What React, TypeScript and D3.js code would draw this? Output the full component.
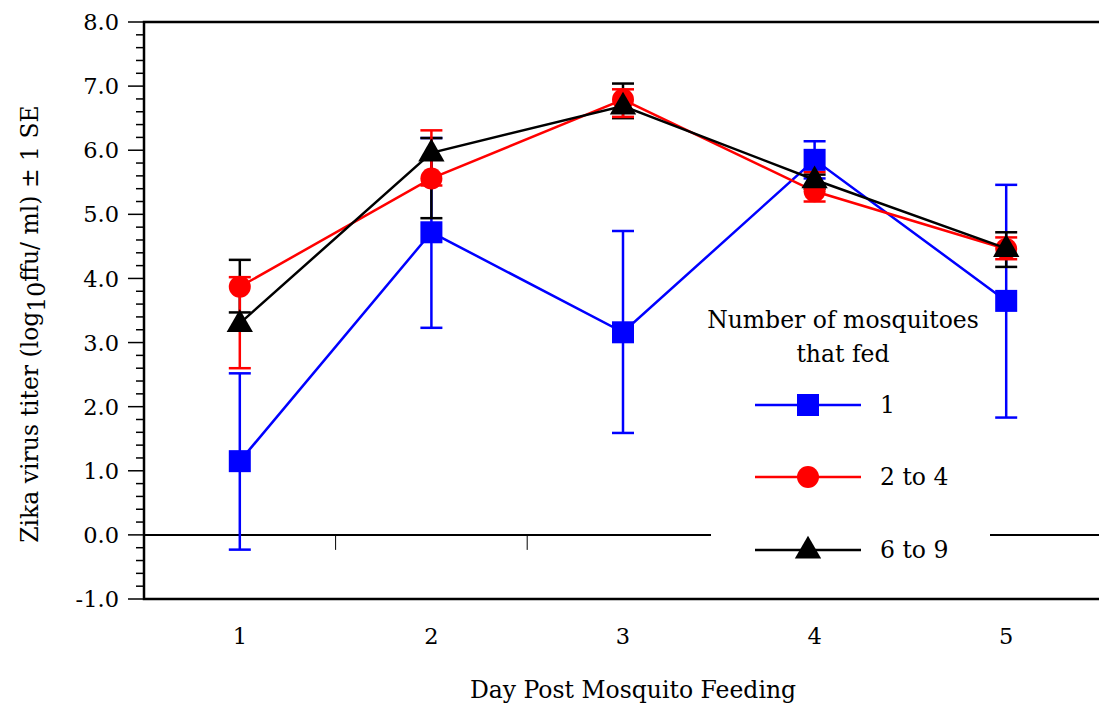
import * as d3 from "d3";

const days = [1, 2, 3, 4, 5];

// one mosquito
const oneMean = [1.15, 4.72, 3.16, 5.85, 3.65];
const oneUpper = [2.52, 6.19, 4.74, 6.14, 5.46];
const oneLower = [-0.23, 3.23, 1.59, 5.56, 1.83];

// 2 to 4 mosquitoes
const twoMean = [3.87, 5.56, 6.79, 5.36, 4.46];
const twoUpper = [4.02, 6.31, 6.95, 5.66, 4.64];
const twoLower = [2.6, 5.45, 6.52, 5.2, 4.3];

// 6 to 9 mosquitoes
const sixMean = [3.3, 5.96, 6.69, 5.54, 4.47];
const sixUpper = [4.29, 6.19, 7.04, 5.62, 4.72];
const sixLower = [3.47, 4.94, 6.5, 5.4, 4.18];

const yTicks = [-1, 0, 1, 2, 3, 4, 5, 6, 7, 8];
const halfDays = [1.5, 2.5, 3.5, 4.5];

type Shape = "square" | "circle" | "triangle";

const series = [
  { name: "1", color: "#0000ff", shape: "square" as Shape, mean: oneMean, upper: oneUpper, lower: oneLower },
  { name: "2 to 4", color: "#ff0000", shape: "circle" as Shape, mean: twoMean, upper: twoUpper, lower: twoLower },
  { name: "6 to 9", color: "#000000", shape: "triangle" as Shape, mean: sixMean, upper: sixUpper, lower: sixLower },
];

// error bars stack blue, black, red; lines/markers blue, red, black
const errOrder = [0, 2, 1];
const markOrder = [0, 1, 2];

const W = 1099;
const H = 705;
const left = 144;
const top = 22;
const bottom = 599;
const right = 1102;
const font = "'DejaVu Serif', serif";
const tickSize = 22.5;
const labelSize = 23.5;

const x = d3.scaleLinear().domain([0.5, 5.5]).range([left, right]);
const y = d3.scaleLinear().domain([-1, 8]).range([bottom, top]);

function Marker({ shape, color, cx, cy }: { shape: Shape; color: string; cx: number; cy: number }) {
  if (shape === "square") return <rect x={cx - 11} y={cy - 11} width={22} height={22} fill={color} />;
  if (shape === "circle") return <circle cx={cx} cy={cy} r={11} fill={color} />;
  const tri = d3.symbol(d3.symbolTriangle, 300)()!;
  return <path d={tri} transform={`translate(${cx},${cy + 1})`} fill={color} />;
}

export default function App() {
  const line = d3
    .line<number>()
    .x((_, i) => x(days[i]))
    .y((v) => y(v));

  const minorTicks = d3.range(-1, 8.001, 0.2).filter((v) => Math.abs(v - Math.round(v)) > 0.01);

  const legendY = [405, 477, 550];

  return (
    <svg width={W} height={H} style={{ position: "absolute", left: 0, top: 0, background: "#fff" }}>
      <rect width={W} height={H} fill="#fff" />

      {/* zero line with half-day ticks */}
      <line x1={left} x2={W} y1={y(0)} y2={y(0)} stroke="#000" strokeWidth={2} />
      {halfDays.map((d) => (
        <line key={d} x1={x(d)} x2={x(d)} y1={y(0)} y2={y(0) + 15} stroke="#000" strokeWidth={1} />
      ))}

      {/* frame */}
      <path d={`M${W},${top}H${left}V${bottom}H${W}`} fill="none" stroke="#000" strokeWidth={2.5} />

      {/* y ticks */}
      {yTicks.map((t) => (
        <g key={t}>
          <line x1={left - 16} x2={left} y1={y(t)} y2={y(t)} stroke="#000" strokeWidth={1.5} />
          <text x={119} y={y(t)} dy="0.36em" textAnchor="end" fontFamily={font} fontSize={tickSize}>
            {t.toFixed(1)}
          </text>
        </g>
      ))}
      {minorTicks.map((t) => (
        <line key={t} x1={left - 8} x2={left} y1={y(t)} y2={y(t)} stroke="#000" strokeWidth={1.5} />
      ))}

      {/* x labels */}
      {days.map((d) => (
        <text key={d} x={x(d)} y={644} textAnchor="middle" fontFamily={font} fontSize={tickSize}>
          {d}
        </text>
      ))}
      <text x={633} y={698} textAnchor="middle" fontFamily={font} fontSize={labelSize}>
        Day Post Mosquito Feeding
      </text>

      {/* y title */}
      <text transform={`translate(38,324) rotate(-90)`} textAnchor="middle" fontFamily={font} fontSize={labelSize}>
        Zika virus titer (log
        <tspan baselineShift="-30%">10</tspan>
        <tspan>ffu/ ml) ± 1 SE</tspan>
      </text>

      {/* error bars */}
      {errOrder.map((si) => {
        const s = series[si];
        return (
          <g key={`e${si}`} stroke={s.color} strokeWidth={2.5}>
            {days.map((d, i) => (
              <g key={d}>
                <line x1={x(d)} x2={x(d)} y1={y(s.lower[i])} y2={y(s.upper[i])} />
                <line x1={x(d) - 11} x2={x(d) + 11} y1={y(s.upper[i])} y2={y(s.upper[i])} />
                <line x1={x(d) - 11} x2={x(d) + 11} y1={y(s.lower[i])} y2={y(s.lower[i])} />
              </g>
            ))}
          </g>
        );
      })}

      {/* lines and markers */}
      {markOrder.map((si) => {
        const s = series[si];
        return (
          <g key={`m${si}`}>
            <path d={line(s.mean)!} fill="none" stroke={s.color} strokeWidth={2.5} />
            {days.map((d, i) => (
              <Marker key={d} shape={s.shape} color={s.color} cx={x(d)} cy={y(s.mean[i])} />
            ))}
          </g>
        );
      })}

      {/* legend */}
      <rect x={711} y={298} width={279} height={272} fill="#fff" />
      <text x={843} y={328} textAnchor="middle" fontFamily={font} fontSize={labelSize}>
        Number of mosquitoes
      </text>
      <text x={843} y={362} textAnchor="middle" fontFamily={font} fontSize={labelSize}>
        that fed
      </text>
      {series.map((s, i) => (
        <g key={`l${i}`}>
          <line x1={755} x2={861} y1={legendY[i]} y2={legendY[i]} stroke={s.color} strokeWidth={2.5} />
          <Marker shape={s.shape} color={s.color} cx={808} cy={legendY[i]} />
          <text x={880} y={legendY[i]} dy="0.36em" fontFamily={font} fontSize={labelSize}>
            {s.name}
          </text>
        </g>
      ))}
    </svg>
  );
}
